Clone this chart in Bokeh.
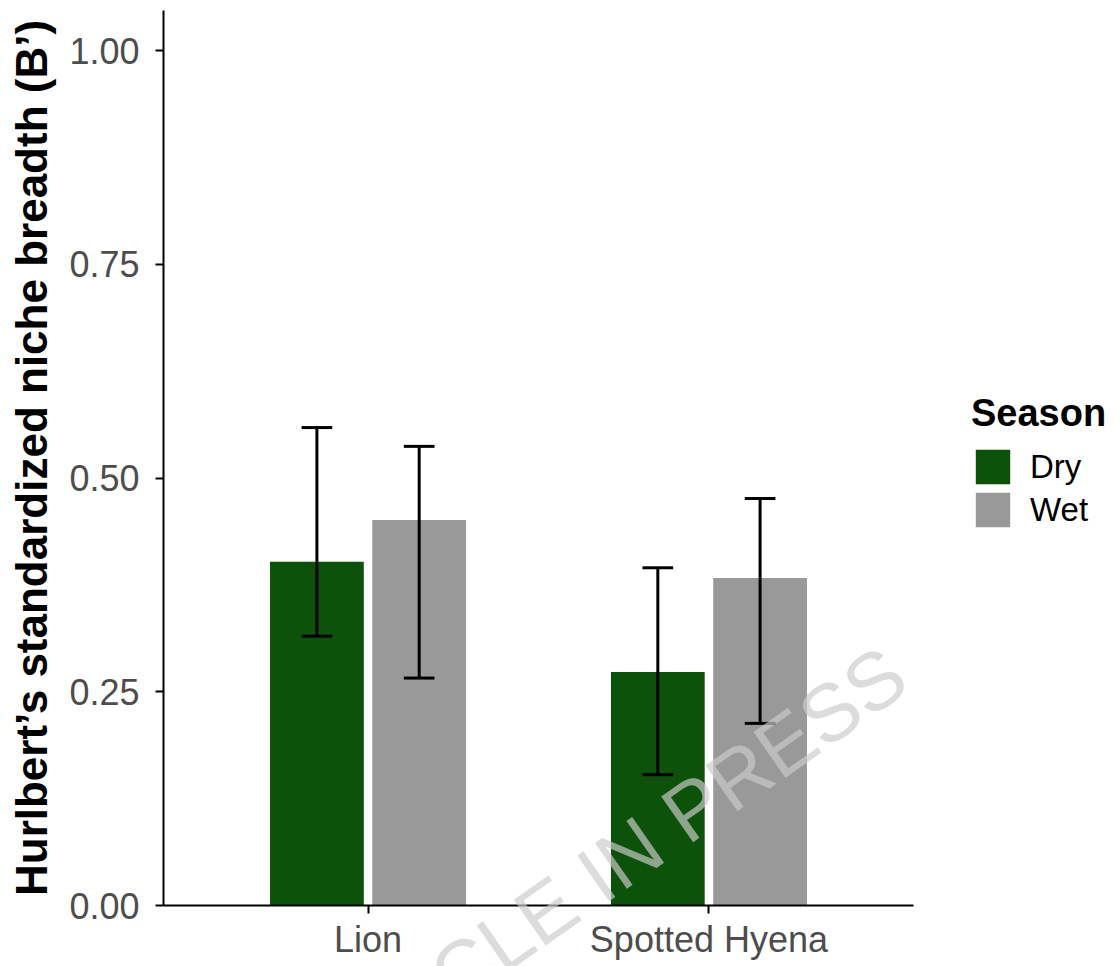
import numpy as np
from bokeh.plotting import figure
from bokeh.models import (ColumnDataSource, FixedTicker, Legend, LegendItem, Label,
                          Range1d, PrintfTickFormatter)
from bokeh.embed import file_html
from bokeh.resources import INLINE

# ---------------- data ----------------
species = ["Lion", "Spotted Hyena"]
seasons = ["Dry", "Wet"]
dry_mean = [0.402, 0.273]
dry_lower = [0.315, 0.153]
dry_upper = [0.559, 0.395]
wet_mean = [0.451, 0.383]
wet_lower = [0.266, 0.213]
wet_upper = [0.537, 0.476]
y_ticks = [0.0, 0.25, 0.50, 0.75, 1.00]

season_colors = {"Dry": "#0d520a", "Wet": "#999999"}

FONT = "Liberation Sans"
TICK_COLOR = "#4d4d4d"

W, H = 1118, 966
# layout of the plotting area (pixels inside the canvas)
AX_LEFT, AX_RIGHT = 163, 913          # x = 0.4 .. 2.6
Y0_PX, Y1_PX = 905, 50                # y = 0 .. 1
XLO, XHI = 0.4, 2.6
YTOP = 1.0468
xs_per_px = (XHI - XLO) / (AX_RIGHT - AX_LEFT)
ys_per_px = 1.0 / (Y0_PX - Y1_PX)
x_start = XLO - AX_LEFT * xs_per_px
x_end = x_start + W * xs_per_px
y_end = Y0_PX * ys_per_px
y_start = y_end - H * ys_per_px

p = figure(width=W, height=H, output_backend="svg", toolbar_location=None,
           x_range=Range1d(x_start, x_end), y_range=Range1d(y_start, y_end),
           min_border=0)
p.outline_line_color = None
p.xgrid.visible = False
p.ygrid.visible = False
p.background_fill_color = "white"
p.border_fill_color = "white"

pos = np.arange(1, len(species) + 1, dtype=float)
offset = 0.15
bar_w = 0.275
cap_w = 0.09

renderers = {}
for name, means, lows, highs, sign in [("Dry", dry_mean, dry_lower, dry_upper, -1),
                                        ("Wet", wet_mean, wet_lower, wet_upper, 1)]:
    xs = pos + sign * offset
    src = ColumnDataSource(dict(x=xs, top=means, lo=lows, hi=highs,
                                xl=xs - cap_w / 2, xr=xs + cap_w / 2))
    r = p.vbar(x="x", top="top", bottom=0, width=bar_w, source=src,
               fill_color=season_colors[name], line_color=None)
    renderers[name] = r
    p.segment(x0="x", x1="x", y0="lo", y1="hi", source=src, line_color="black", line_width=3)
    p.segment(x0="xl", x1="xr", y0="hi", y1="hi", source=src, line_color="black", line_width=3)
    p.segment(x0="xl", x1="xr", y0="lo", y1="lo", source=src, line_color="black", line_width=3)

# axes (drawn at fixed data locations so they take no panel space)
p.xaxis.fixed_location = 0
p.yaxis.fixed_location = XLO
p.xaxis.bounds = (XLO, XHI)
p.yaxis.bounds = (0, YTOP)
p.xaxis.ticker = FixedTicker(ticks=list(pos))
p.xaxis.major_label_overrides = {float(i): s for i, s in zip(pos, species)}
p.xaxis.major_label_overrides.update({int(i): s for i, s in zip(pos, species)})
p.yaxis.ticker = FixedTicker(ticks=y_ticks)
p.yaxis.formatter = PrintfTickFormatter(format="%.2f")

for ax in (p.xaxis[0], p.yaxis[0]):
    ax.axis_line_color = "black"
    ax.axis_line_width = 2
    ax.major_tick_line_color = "black"
    ax.major_tick_line_width = 2
    ax.major_tick_out = 8
    ax.major_tick_in = 0
    ax.minor_tick_line_color = None
    ax.major_label_text_font = FONT
    ax.major_label_text_font_size = "36px"
    ax.major_label_text_color = TICK_COLOR

p.xaxis.major_label_standoff = 5
p.yaxis.major_label_standoff = 16
p.yaxis.axis_label = "Hurlbert\u2019s standardized niche breadth (B\u2019)"
p.yaxis.axis_label_text_font = FONT
p.yaxis.axis_label_text_font_size = "44px"
p.yaxis.axis_label_text_font_style = "bold"
p.yaxis.axis_label_text_color = "black"
p.yaxis.axis_label_standoff = 10

# legend
legend = Legend(items=[LegendItem(label=s, renderers=[renderers[s]]) for s in seasons],
                title="Season", location=(971, 435))
legend.title_text_font = FONT
legend.title_text_font_size = "38px"
legend.title_text_font_style = "bold"
legend.title_text_color = "black"
legend.title_standoff = 10
legend.label_text_font = FONT
legend.label_text_font_size = "33px"
legend.label_text_color = "black"
legend.glyph_width = 43
legend.glyph_height = 43
legend.label_height = 43
legend.label_standoff = 16
legend.spacing = -6
legend.padding = 0
legend.margin = 0
legend.border_line_color = None
legend.background_fill_alpha = 0
p.add_layout(legend)

# watermark
wm = Label(x=1.66, y=0.032, text="ARTICLE IN PRESS", angle=35, angle_units="deg",
           text_align="center", text_baseline="middle", text_font=FONT,
           text_font_size="81px", text_color="#cccccc", text_alpha=0.68)
p.add_layout(wm)

open("out.html", "w").write(file_html(p, INLINE))
